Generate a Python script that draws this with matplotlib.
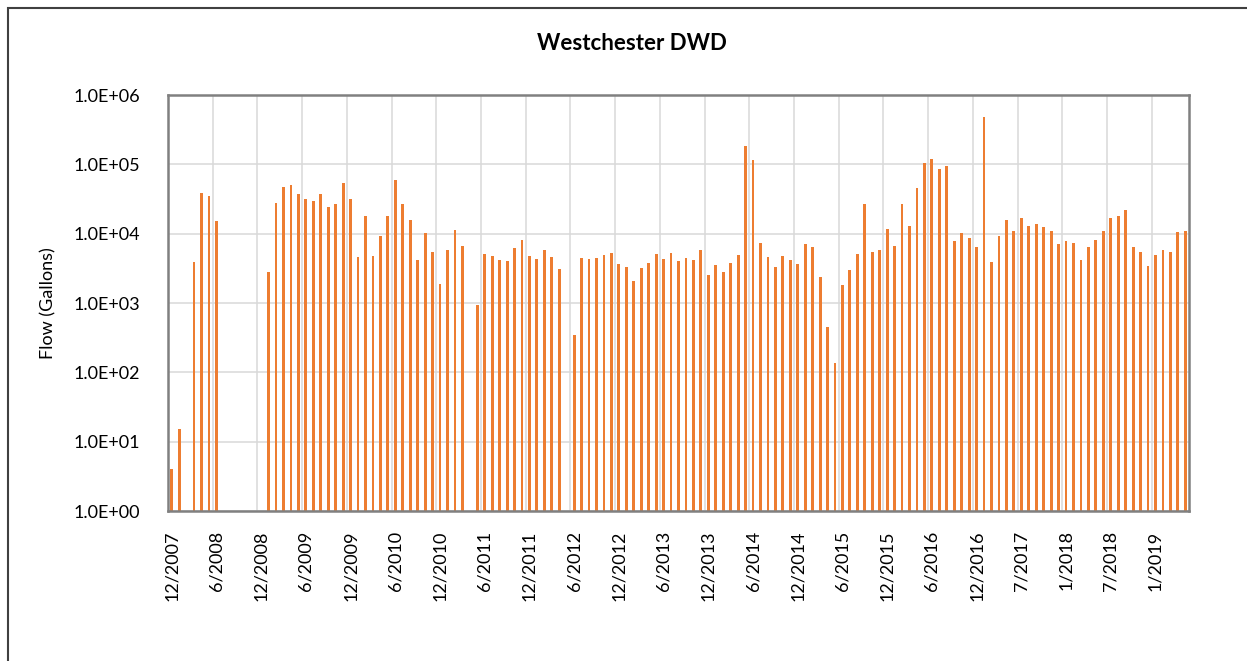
import numpy as np
import pandas as pd
import matplotlib
matplotlib.use("Agg")
import matplotlib.pyplot as plt
from matplotlib.patches import Rectangle
from matplotlib.ticker import FuncFormatter, FixedLocator

plt.rcParams['font.family'] = ['Lato', 'DejaVu Sans']

title = "Westchester DWD"
y_label = "Flow (Gallons)"

# monthly categories, 12/2007 - 5/2019 (no record for 1/2017)
months = [p for p in pd.period_range("2007-12", "2019-05", freq="M") if str(p) != "2017-01"]
categories = [f"{p.month}/{p.year}" for p in months]

nan = np.nan
flow = [
    4.1, 15, nan, 3940, 38200, 35300, 15200, nan, nan, nan,
    nan, nan, nan, 2830, 28000, 46700, 50400, 37400, 32000, 29300,
    37400, 24500, 27100, 54400, 31700, 4660, 18200, 4820, 9160, 18200,
    59500, 26800, 15700, 4170, 10100, 5440, 1900, 5760, 11300, 6710,
    nan, 927, 5140, 4820, 4220, 4030, 6150, 8200, 4710, 4310,
    5820, 4660, 3060, nan, 349, 4460, 4270, 4410, 4920, 5260,
    3650, 3270, 2080, 3240, 3780, 5040, 4270, 5200, 4030, 4410,
    4220, 5870, 2560, 3570, 2770, 3780, 4980, 184000, 114000, 7260,
    4560, 3270, 4770, 4220, 3650, 7020, 6350, 2350, 451, 135,
    1800, 2970, 5040, 26800, 5440, 5820, 11700, 6560, 26500, 12800,
    45100, 106000, 119000, 86500, 93600, 7920, 10200, 8750, 6430, 477000,
    3860, 9350, 15600, 10900, 16700, 13000, 13900, 12500, 10900, 7170,
    7920, 7260, 4120, 6500, 8200, 11100, 16800, 18200, 22200, 6430,
    5440, 3450, 4980, 5820, 5490, 10700, 10800,
]

label_step = 6


def plot_flow(categories, flow):
    fig = plt.figure(figsize=(12.47, 6.61), dpi=100)
    ax = fig.add_axes([168 / 1247, 1 - 511 / 661, 1021 / 1247, 416 / 661])

    x = np.arange(len(categories))
    ax.bar(x, flow, width=0.38, color="#ED7D31", zorder=3)

    ax.set_yscale("log")
    ax.set_ylim(1, 1e6)
    ax.set_xlim(-0.5, len(categories) - 0.5)
    ax.yaxis.set_major_formatter(FuncFormatter(lambda v, pos: f"{v:.1E}"))
    ax.yaxis.set_minor_locator(FixedLocator([]))

    ticks = x[::label_step]
    ax.set_xticks(ticks)
    ax.set_xticklabels([categories[i] for i in ticks], rotation=90)

    # gridlines sit between categories, every 6 months
    for b in ticks[1:] - 0.5:
        ax.axvline(b, color="#D9D9D9", lw=1.1, zorder=1)
    ax.grid(axis="y", color="#D9D9D9", lw=1.1, zorder=1)

    ax.tick_params(axis="x", length=0, pad=14, labelsize=13)
    ax.tick_params(axis="y", length=0, pad=20, labelsize=13)
    for s in ax.spines.values():
        s.set_color("#808080")
        s.set_linewidth(1.8)
        s.set_zorder(4)

    fig.text(632 / 1247, 1 - 43 / 661, title, ha="center", va="center",
             fontsize=16, fontweight="bold")
    fig.text(48 / 1247, 1 - 303 / 661, y_label, rotation=90, ha="center",
             va="center", fontsize=13)

    # chart area border
    fig.patches.append(Rectangle((8 / 1247, -0.1), 1.1, 1.1 - 8 / 661,
                                 transform=fig.transFigure, fill=False,
                                 edgecolor="#404040", lw=1.5))
    return fig


fig = plot_flow(categories, flow)
fig.savefig("out.png", dpi=100)
